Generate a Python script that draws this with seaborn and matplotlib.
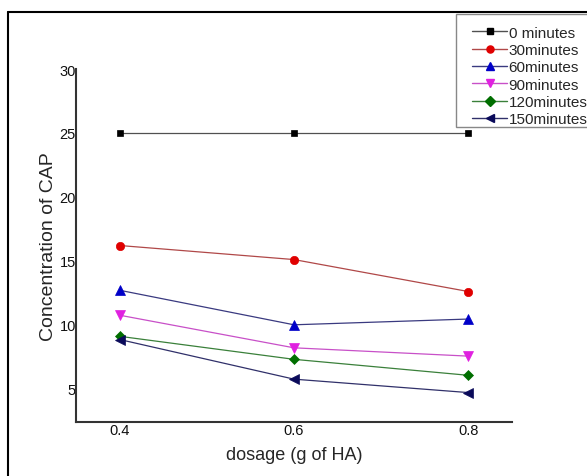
import matplotlib
matplotlib.use("Agg")
import matplotlib.pyplot as plt
import seaborn as sns
import pandas as pd
from matplotlib.lines import Line2D
from matplotlib.patches import Rectangle

dosage = [0.4, 0.6, 0.8]
series_names = ["0 minutes", "30minutes", "60minutes", "90minutes", "120minutes", "150minutes"]
v0 = [25.0, 25.0, 25.0]
v30 = [16.2, 15.1, 12.6]
v60 = [12.7, 10.0, 10.45]
v90 = [10.75, 8.2, 7.55]
v120 = [9.1, 7.3, 6.05]
v150 = [8.85, 5.75, 4.7]
all_values = [v0, v30, v60, v90, v120, v150]

marker_colors = ["#000000", "#e00000", "#0000c8", "#e020e0", "#006e00", "#0a0a5a"]
line_colors = ["#505050", "#b04848", "#3a3a80", "#c850c8", "#3a803a", "#30306a"]
markers = ["s", "o", "^", "v", "D", "<"]
msizes = [4.5, 6, 6.5, 6.5, 5.5, 6.5]

rows = []
for name, vals in zip(series_names, all_values):
    for d, v in zip(dosage, vals):
        rows.append({"dosage": d, "value": v, "series": name})
df = pd.DataFrame(rows)

sns.set_style("white")
plt.rcParams["font.family"] = ["Liberation Sans", "DejaVu Sans"]

fig = plt.figure(figsize=(5.87, 4.77), dpi=100)
ax = fig.add_axes([76/587, 1-423/477, 436/587, 353/477])

sns.lineplot(data=df, x="dosage", y="value", hue="series", style="series",
             hue_order=series_names, style_order=series_names,
             palette=dict(zip(series_names, line_colors)),
             markers=dict(zip(series_names, markers)), dashes=False,
             linewidth=0.9, ax=ax, legend=False)

lines = ax.get_lines()
handles = []
for i, ln in enumerate(lines[:len(series_names)]):
    ln.set_markerfacecolor(marker_colors[i])
    ln.set_markeredgecolor(marker_colors[i])
    ln.set_markersize(msizes[i])
    ln.set_markeredgewidth(0.5)
    handles.append(Line2D([], [], color=line_colors[i], lw=1.0, marker=markers[i],
                          markerfacecolor=marker_colors[i], markeredgecolor=marker_colors[i],
                          markersize=msizes[i]*0.85))

ax.set_xlim(0.35, 0.85)
ax.set_ylim(2.4, 30)
ax.set_xticks(dosage)
ax.set_xticklabels(["0.4", "0.6", "0.8"])
ax.set_yticks([5, 10, 15, 20, 25, 30])
ax.set_yticklabels(["5", "10", "15", "20", "25", "30"])
ax.tick_params(axis="both", length=0, labelsize=10.5, colors="#111111")
ax.tick_params(axis="y", pad=0)
ax.tick_params(axis="x", pad=1)

for s in ["top", "right"]:
    ax.spines[s].set_visible(False)
for s in ["left", "bottom"]:
    ax.spines[s].set_color("#333333")
    ax.spines[s].set_linewidth(1.5)

ax.set_xlabel("dosage (g of HA)", fontsize=13, labelpad=6)
ax.set_ylabel("Concentration of CAP", fontsize=14, labelpad=2)

# legend box (extends beyond right edge)
fig.add_artist(Rectangle((456/587, 1-128/477), 0.3, 113/477, transform=fig.transFigure,
                         facecolor="white", edgecolor="#888888", lw=1.0, zorder=3))
leg = fig.legend(handles=handles, labels=series_names, loc="upper left",
                 bbox_to_anchor=(472/587, 1-26.5/477), fontsize=11, frameon=False,
                 handlelength=2.3, handletextpad=0.1, labelspacing=0.22,
                 borderpad=0, borderaxespad=0)
leg.set_zorder(4)

# outer frame (left and top edges)
fig.add_artist(Line2D([8/587, 8/587], [0, 1-13/477], transform=fig.transFigure, color="black", lw=1.5))
fig.add_artist(Line2D([8/587, 1], [1-13/477, 1-13/477], transform=fig.transFigure, color="black", lw=1.5))

fig.savefig("out.png", dpi=100)
